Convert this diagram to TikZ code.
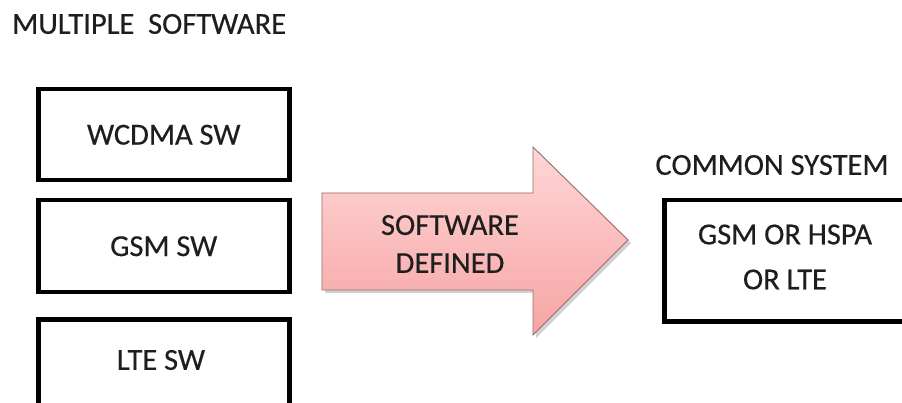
\documentclass[tikz,border=0pt]{standalone}
\usepackage{fontspec}
\setmainfont{Carlito}[FakeBold=0.4]
\begin{document}
\begin{tikzpicture}[x=1pt,y=-1pt,
  swbox/.style={draw=black,line width=4.5pt,minimum width=251pt,inner sep=0pt,
    font=\fontsize{30.5}{36}\selectfont,text=txtcol,anchor=north west},
  lbl/.style={inner sep=0pt,font=\fontsize{30.5}{36}\selectfont,text=txtcol},
  arrowtxt/.style={inner sep=0pt,align=center,text=txtcol,font=\fontsize{30.5}{38}\selectfont}]
\definecolor{txtcol}{HTML}{1E1E1E}
\definecolor{arrtop}{HTML}{FFD6D6}
\definecolor{arrbot}{HTML}{F6A4A4}
\definecolor{arredge}{HTML}{9A6A6A}
\useasboundingbox (0,0) rectangle (902,403);
\clip (0,0) rectangle (902,403);
\fill[white] (0,0) rectangle (902,403);
% title
\node[lbl,anchor=west] (title) at (12,24) {MULTIPLE\hspace{0.45em}SOFTWARE};
% left boxes
\node[swbox,minimum height=91pt] (wcdma) at (36,87) {WCDMA SW};
\node[swbox,minimum height=92pt] (gsm) at (36,198) {GSM SW};
\node[swbox,minimum height=103pt,text depth=0pt] (lte) at (36,317) {};
\node[lbl] (ltetxt) at (161,360) {LTE SW};
% arrow shadow
\fill[black,opacity=0.18] (325,196) -- (536,196) -- (536,150) -- (631,243) -- (536,338) -- (536,293) -- (325,293) -- cycle;
% arrow
\shade[top color=arrtop,bottom color=arrbot,draw=arredge,line width=0.9pt]
  (322,193) -- (533,193) -- (533,147) -- (628,240) -- (533,335) -- (533,290) -- (322,290) -- cycle;
\node[arrowtxt] (sd) at (450,244) {SOFTWARE\\DEFINED};
% right side
\node[lbl] (common) at (772,165) {COMMON SYSTEM};
\node[draw=black,line width=4.5pt,minimum width=246pt,minimum height=121pt,anchor=north west,inner sep=0pt] (sys) at (662,198) {};
\node[arrowtxt,font=\fontsize{30.5}{45}\selectfont] (systxt) at (785,257) {GSM OR HSPA\\OR LTE};
\end{tikzpicture}
\end{document}
